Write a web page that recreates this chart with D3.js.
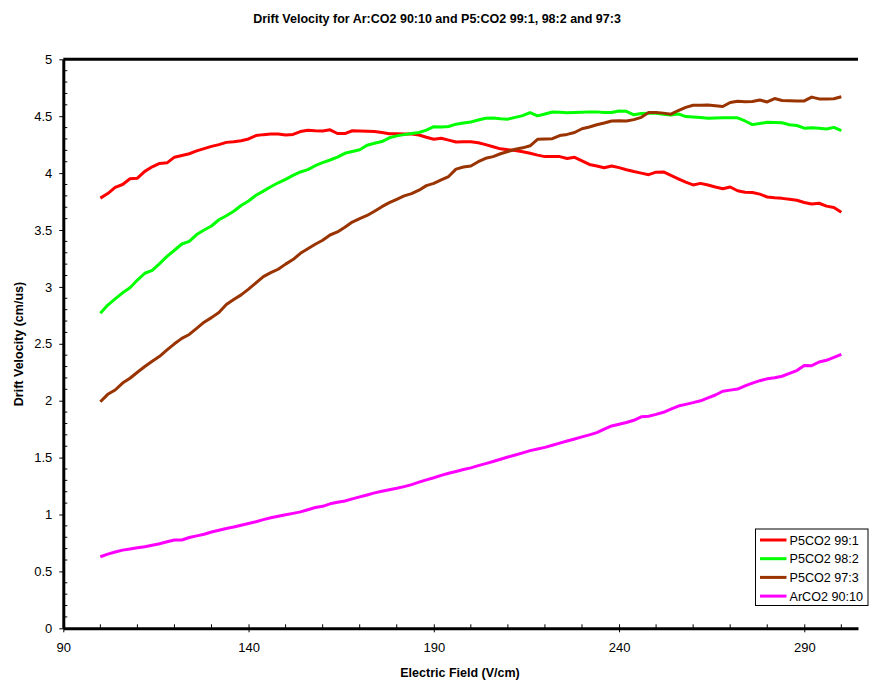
<!DOCTYPE html>
<html>
<head>
<meta charset="utf-8">
<script src="https://cdn.jsdelivr.net/npm/d3@7"></script>
<style>
  html, body { margin: 0; padding: 0; background: #fff; }
  svg { display: block; font-family: Arial, "Liberation Sans", sans-serif; }
</style>
</head>
<body>
<svg id="chart" width="870" height="681"></svg>
<script>
// ---------- data ----------
const fieldValues = d3.range(100, 301, 2); // Electric field, V/cm

const p5co2_99_1 = [3.78,3.82,3.875,3.90,3.95,3.955,4.015,4.055,4.085,4.09,4.14,4.155,4.17,4.195,4.215,4.235,4.25,4.27,4.275,4.285,4.30,4.33,4.338,4.343,4.343,4.335,4.34,4.365,4.376,4.372,4.37,4.38,4.348,4.347,4.372,4.37,4.368,4.366,4.357,4.346,4.345,4.344,4.343,4.335,4.315,4.297,4.306,4.29,4.274,4.276,4.276,4.267,4.25,4.232,4.213,4.205,4.198,4.187,4.174,4.158,4.145,4.145,4.145,4.128,4.139,4.108,4.076,4.062,4.047,4.062,4.048,4.03,4.014,4.0,3.986,4.008,4.01,3.98,3.95,3.92,3.896,3.91,3.895,3.878,3.863,3.878,3.845,3.832,3.829,3.815,3.79,3.783,3.778,3.77,3.761,3.742,3.728,3.735,3.71,3.698,3.656];

const p5co2_98_2 = [2.768,2.84,2.895,2.948,2.993,3.06,3.12,3.145,3.205,3.268,3.322,3.377,3.40,3.46,3.50,3.535,3.59,3.625,3.665,3.715,3.755,3.805,3.842,3.88,3.915,3.945,3.98,4.01,4.03,4.065,4.092,4.115,4.14,4.174,4.19,4.205,4.245,4.262,4.277,4.31,4.327,4.338,4.348,4.357,4.378,4.408,4.406,4.41,4.43,4.44,4.449,4.466,4.482,4.484,4.478,4.474,4.49,4.505,4.531,4.503,4.52,4.537,4.534,4.531,4.533,4.535,4.538,4.538,4.533,4.532,4.546,4.543,4.512,4.523,4.525,4.525,4.518,4.511,4.52,4.497,4.493,4.489,4.483,4.484,4.486,4.487,4.486,4.458,4.426,4.436,4.446,4.444,4.442,4.425,4.418,4.395,4.398,4.394,4.387,4.402,4.373];

const p5co2_97_3 = [1.991,2.056,2.094,2.155,2.197,2.25,2.30,2.347,2.39,2.447,2.50,2.548,2.582,2.636,2.69,2.73,2.775,2.845,2.89,2.93,2.98,3.035,3.09,3.125,3.155,3.20,3.24,3.295,3.335,3.375,3.41,3.456,3.483,3.525,3.57,3.60,3.628,3.665,3.705,3.74,3.77,3.80,3.82,3.85,3.89,3.91,3.94,3.97,4.035,4.053,4.062,4.10,4.13,4.145,4.17,4.19,4.21,4.222,4.24,4.297,4.30,4.302,4.33,4.34,4.357,4.39,4.405,4.425,4.44,4.458,4.459,4.458,4.47,4.49,4.532,4.532,4.527,4.518,4.55,4.578,4.596,4.597,4.598,4.592,4.585,4.62,4.631,4.628,4.63,4.642,4.625,4.655,4.638,4.635,4.633,4.634,4.668,4.652,4.652,4.653,4.671];

const arco2_90_10 = [0.629,0.652,0.67,0.687,0.697,0.707,0.717,0.73,0.743,0.76,0.776,0.776,0.798,0.812,0.826,0.846,0.862,0.877,0.89,0.906,0.921,0.936,0.955,0.971,0.984,0.997,1.01,1.023,1.042,1.061,1.072,1.094,1.107,1.119,1.137,1.155,1.172,1.19,1.205,1.218,1.23,1.245,1.263,1.284,1.304,1.323,1.344,1.362,1.378,1.395,1.41,1.429,1.447,1.466,1.485,1.505,1.523,1.542,1.561,1.575,1.59,1.608,1.627,1.646,1.664,1.682,1.70,1.72,1.75,1.778,1.793,1.808,1.828,1.858,1.864,1.88,1.898,1.925,1.953,1.968,1.983,1.999,2.024,2.05,2.083,2.093,2.102,2.13,2.155,2.176,2.192,2.202,2.215,2.24,2.265,2.31,2.308,2.34,2.355,2.38,2.408];

const seriesNames = ["P5CO2 99:1", "P5CO2 98:2", "P5CO2 97:3", "ArCO2 90:10"];
const seriesColors = ["#FF0000", "#00FF00", "#993300", "#FF00FF"];
const seriesValues = [p5co2_99_1, p5co2_98_2, p5co2_97_3, arco2_90_10];

const xTicks = [90, 140, 190, 240, 290];
const yTicks = [0, 0.5, 1, 1.5, 2, 2.5, 3, 3.5, 4, 4.5, 5];

const titleText = "Drift Velocity for Ar:CO2 90:10 and P5:CO2 99:1, 98:2 and 97:3";
const xLabelText = "Electric Field (V/cm)";
const yLabelText = "Drift Velocity (cm/us)";

// ---------- layout ----------
const svg = d3.select("#chart");
const L = 63.3, R = 858, T = 59.3, B = 628.3;

const x = d3.scaleLinear().domain([90, 304.5]).range([L, R]);
const y = d3.scaleLinear().domain([0, 5]).range([B, T]);

// title
svg.append("text")
  .attr("x", 437).attr("y", 23)
  .attr("text-anchor", "middle")
  .attr("font-size", "12.5px").attr("font-weight", "bold")
  .text(titleText);

// top border
svg.append("line")
  .attr("x1", L).attr("x2", R).attr("y1", T).attr("y2", T)
  .attr("stroke", "#000").attr("stroke-width", 3);

// minor ticks (inside)
const gMinor = svg.append("g");
d3.range(100, 305, 10).filter(v => v % 50 !== 40).forEach(v => {
  gMinor.append("line").attr("x1", x(v)).attr("x2", x(v))
    .attr("y1", B).attr("y2", B - 4).attr("stroke", "#000").attr("stroke-width", 1);
});
d3.range(1, 50).filter(i => i % 5 !== 0).forEach(i => {
  const v = i / 10;
  gMinor.append("line").attr("x1", L).attr("x2", L + 4)
    .attr("y1", y(v)).attr("y2", y(v)).attr("stroke", "#000").attr("stroke-width", 1);
});

// x axis
const xAxis = svg.append("g")
  .attr("transform", `translate(0,${B})`)
  .call(d3.axisBottom(x).tickValues(xTicks).tickSizeInner(4).tickSizeOuter(0).tickPadding(10));
xAxis.select(".domain").attr("stroke-width", 3);
xAxis.selectAll(".tick line").attr("y1", -4).attr("stroke-width", 1);
xAxis.selectAll(".tick text").attr("font-size", "13px").attr("fill", "#000")
  .attr("font-family", "Arial, 'Liberation Sans', sans-serif");

// y axis
const yAxis = svg.append("g")
  .attr("transform", `translate(${L},0)`)
  .call(d3.axisLeft(y).tickValues(yTicks).tickFormat(d3.format("")).tickSizeInner(4).tickSizeOuter(0).tickPadding(7));
yAxis.select(".domain").attr("stroke-width", 3);
yAxis.selectAll(".tick line").attr("stroke-width", 1);
yAxis.selectAll(".tick text").attr("font-size", "13px").attr("fill", "#000")
  .attr("font-family", "Arial, 'Liberation Sans', sans-serif");

// axis labels
svg.append("text")
  .attr("x", 460).attr("y", 677)
  .attr("text-anchor", "middle")
  .attr("font-size", "12.5px").attr("font-weight", "bold")
  .text(xLabelText);

svg.append("text")
  .attr("transform", "translate(23,344) rotate(-90)")
  .attr("text-anchor", "middle")
  .attr("font-size", "12.5px").attr("font-weight", "bold")
  .text(yLabelText);

// lines
const line = d3.line()
  .x((d, i) => x(fieldValues[i]))
  .y(d => y(d));

seriesValues.forEach((vals, k) => {
  svg.append("path")
    .datum(vals)
    .attr("fill", "none")
    .attr("stroke", seriesColors[k])
    .attr("stroke-width", 3)
    .attr("stroke-linejoin", "round")
    .attr("d", line);
});

// legend
const lg = svg.append("g").attr("transform", "translate(755.5,529)");
lg.append("rect").attr("width", 112.5).attr("height", 76.5)
  .attr("fill", "#fff").attr("stroke", "#000").attr("stroke-width", 1);
seriesNames.forEach((name, k) => {
  const yy = 11 + k * 18.7;
  lg.append("line").attr("x1", 4.5).attr("x2", 31).attr("y1", yy).attr("y2", yy)
    .attr("stroke", seriesColors[k]).attr("stroke-width", 3);
  lg.append("text").attr("x", 34).attr("y", yy + 4.5)
    .attr("font-size", "12.6px").text(name);
});
</script>
</body>
</html>
